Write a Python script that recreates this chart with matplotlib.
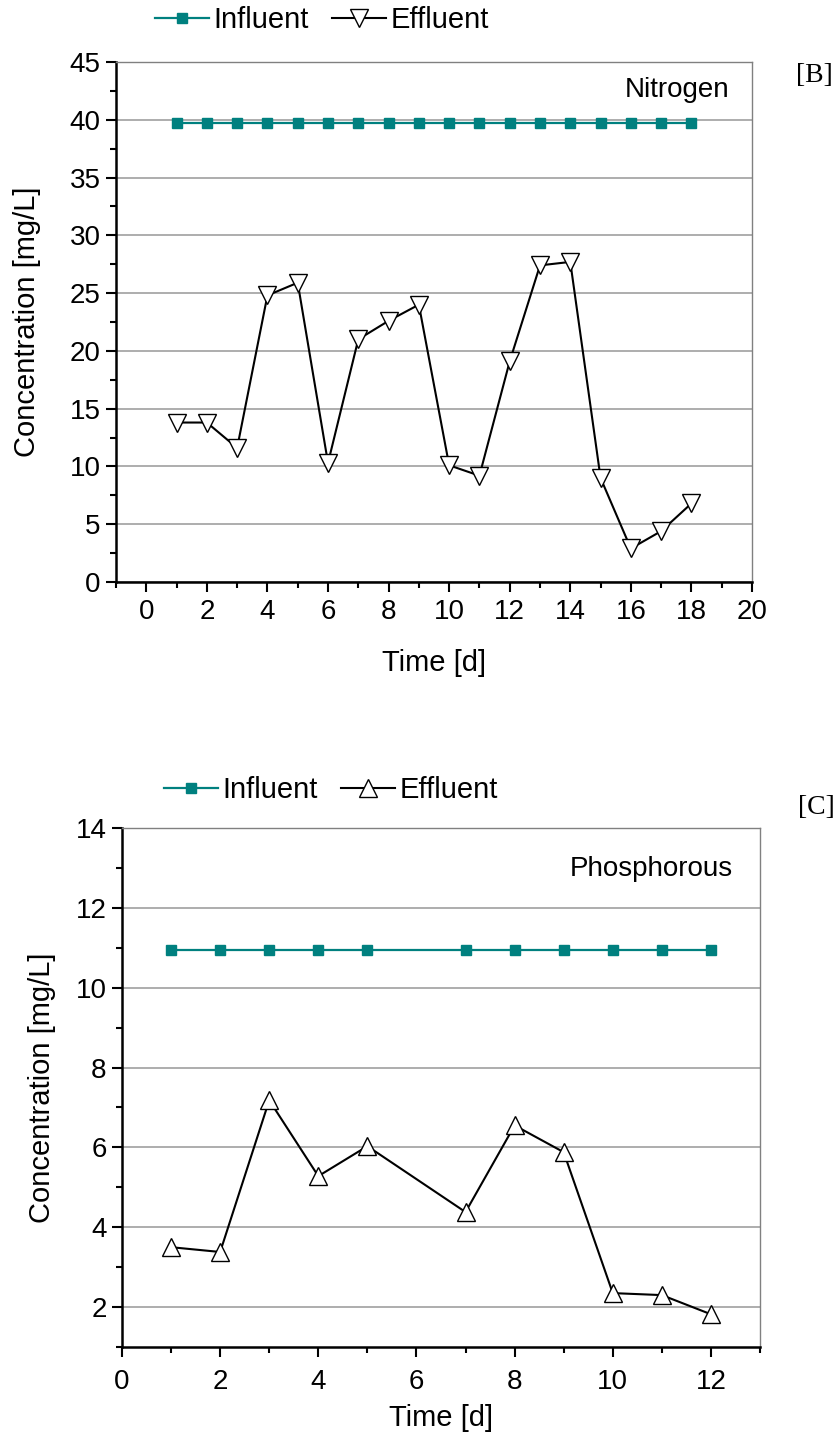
import matplotlib
matplotlib.use("Agg")
import matplotlib.pyplot as plt
from matplotlib.ticker import MultipleLocator

plt.rcParams['font.family'] = ['Liberation Sans', 'DejaVu Sans']

# Nitrogen (panel B)
n_days = [1, 2, 3, 4, 5, 6, 7, 8, 9, 10, 11, 12, 13, 14, 15, 16, 17, 18]
n_influent = [39.7] * 18
n_effluent = [13.8, 13.8, 11.6, 24.8, 25.9, 10.3, 21.0, 22.6, 24.0, 10.1,
              9.2, 19.1, 27.4, 27.7, 9.0, 2.9, 4.4, 6.8]

# Phosphorous (panel C)
p_days = [1, 2, 3, 4, 5, 7, 8, 9, 10, 11, 12]
p_influent = [10.95] * 11
p_effluent = [3.5, 3.38, 7.18, 5.28, 6.03, 4.38, 6.55, 5.88, 2.35, 2.3, 1.82]

TEAL = '#00807f'
TICK_FS = 20
LABEL_FS = 21
W, H = 837, 1441

fig = plt.figure(figsize=(W / 100, H / 100), dpi=100)
ax1 = fig.add_axes([116 / W, 1 - 582 / H, 636 / W, 520 / H])
ax2 = fig.add_axes([122 / W, 1 - 1347 / H, 638 / W, 519 / H])


def style(ax, xlim, ylim, xmaj, xmin, ymaj, ymin, xlab_y, ylab_x, xpad):
    ax.set_xlim(*xlim)
    ax.set_ylim(*ylim)
    ax.xaxis.set_major_locator(MultipleLocator(xmaj))
    ax.xaxis.set_minor_locator(MultipleLocator(xmin))
    ax.yaxis.set_major_locator(MultipleLocator(ymaj))
    ax.yaxis.set_minor_locator(MultipleLocator(ymin))
    ax.grid(axis='y', which='major', color='#a0a0a0', linewidth=1.2)
    ax.set_axisbelow(True)
    for side in ('top', 'right'):
        ax.spines[side].set_color('#808080')
        ax.spines[side].set_linewidth(1.0)
    for side in ('left', 'bottom'):
        ax.spines[side].set_color('black')
        ax.spines[side].set_linewidth(1.8)
    ax.tick_params(which='major', direction='out', length=7, width=1.5,
                   labelsize=TICK_FS, pad=4)
    ax.tick_params(axis='x', which='major', pad=xpad)
    ax.tick_params(which='minor', direction='out', length=4.3, width=1.5)
    ax.tick_params(top=False, right=False, which='both')
    ax.set_xlabel('Time [d]', fontsize=LABEL_FS)
    ax.set_ylabel('Concentration [mg/L]', fontsize=LABEL_FS)
    ax.xaxis.label.set_va('center')
    ax.yaxis.label.set_va('center')
    ax.xaxis.set_label_coords(0.5, xlab_y)
    ax.yaxis.set_label_coords(ylab_x, 0.5)


def legend(ax, x_px, y_px):
    ax.legend(loc='center left', bbox_to_anchor=(x_px / W, 1 - y_px / H),
              bbox_transform=fig.transFigure, ncol=2, frameon=False,
              fontsize=21, handlelength=1.85, handletextpad=0.15,
              columnspacing=0.8, borderpad=0, borderaxespad=0)


# Panel B
style(ax1, (-1, 20), (0, 45), 2, 1, 5, 2.5, -0.156, -0.14, 5.5)
ax1.plot(n_days, n_influent, color=TEAL, lw=1.6, marker='s', ms=7,
         mfc=TEAL, mec=TEAL, label='Influent', zorder=3)
ax1.plot(n_days, n_effluent, color='black', lw=1.5, marker='v', ms=13,
         mfc='white', mec='black', mew=1.0, label='Effluent', zorder=4)
ax1.text(0.965, 0.946, 'Nitrogen', transform=ax1.transAxes, ha='right',
         va='center', fontsize=TICK_FS)
legend(ax1, 155, 20)
fig.text(833 / W, 1 - 75 / H, '[B]', ha='right', va='center', fontsize=20,
         family=['Liberation Serif', 'DejaVu Serif'])

# Panel C
style(ax2, (0, 13), (1, 14), 2, 1, 2, 1, -0.137, -0.125, 8.5)
ax2.plot(p_days, p_influent, color=TEAL, lw=1.6, marker='s', ms=7,
         mfc=TEAL, mec=TEAL, label='Influent', zorder=3)
ax2.plot(p_days, p_effluent, color='black', lw=1.5, marker='^', ms=13,
         mfc='white', mec='black', mew=1.0, label='Effluent', zorder=4)
ax2.text(0.958, 0.921, 'Phosphorous', transform=ax2.transAxes, ha='right',
         va='center', fontsize=TICK_FS)
legend(ax2, 164, 790)
fig.text(835 / W, 1 - 808 / H, '[C]', ha='right', va='center', fontsize=20,
         family=['Liberation Serif', 'DejaVu Serif'])

fig.savefig('out.png', dpi=100)
